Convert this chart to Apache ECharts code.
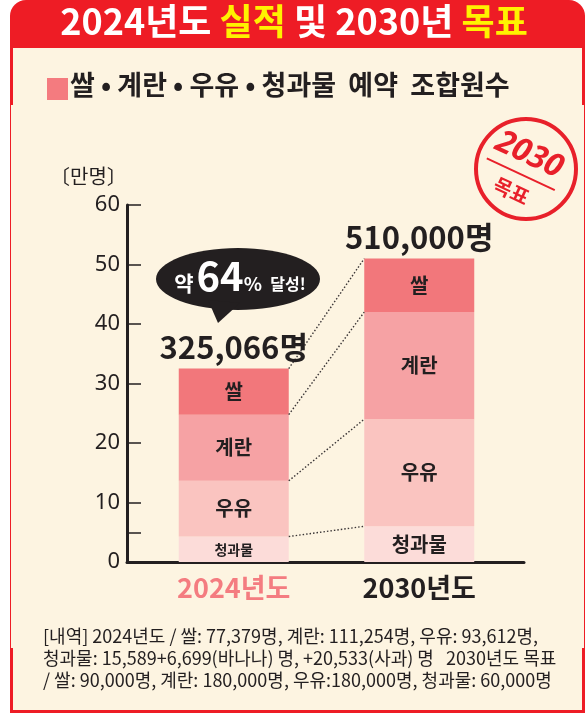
<!DOCTYPE html>
<html>
<head>
<meta charset="utf-8">
<script src="https://cdn.jsdelivr.net/npm/echarts@6/dist/echarts.min.js"></script>
<style>
  html, body { margin: 0; padding: 0; background: #ffffff; }
  #chart { width: 588px; height: 720px; }
</style>
</head>
<body>
<div id="chart"></div>
<script>
// 데이터 (명)
const years = ['2024년도', '2030년도'];
const segNames = ['청과물', '우유', '계란', '쌀'];
const fruit = [15589 + 6699 + 20533, 60000];
const milk = [93612, 180000];
const egg = [111254, 180000];
const rice = [77379, 90000];
const yTicks = [0, 10, 20, 30, 40, 50, 60];

const FONT = '"Noto Sans CJK KR", "Noto Sans", sans-serif';
const DARK = '#231f20';
const colors = ['#fcdcd9', '#fac4c0', '#f6a2a4', '#f2777b'];
const BAR_W = 110;

const toMan = v => v / 10000;
const segs = [fruit, milk, egg, rice];
const totals = years.map((_, i) => segs.reduce((s, a) => s + a[i], 0));

// 누적 상단 (만명) - 점선 연결용
const cumTops = [];
segs.forEach((arr, k) => {
    const prev = k ? cumTops[k - 1] : [0, 0];
    cumTops.push([prev[0] + toMan(arr[0]), prev[1] + toMan(arr[1])]);
});

const chart = echarts.init(document.getElementById('chart'));

const barSeries = segs.map((arr, k) => ({
    name: segNames[k],
    type: 'bar',
    stack: 'total',
    barWidth: BAR_W,
    xAxisIndex: 0,
    yAxisIndex: 0,
    itemStyle: { color: colors[k] },
    label: {
        show: true,
        position: 'inside',
        formatter: () => segNames[k],
        color: DARK,
        fontFamily: FONT,
        fontWeight: 'bold',
        fontSize: 20
    },
    data: arr.map((v, i) => (k === 0 && i === 0)
        ? { value: toMan(v), label: { fontSize: 14 } }
        : toMan(v)),
    z: 2
}));

const option = {
    animation: false,
    backgroundColor: '#ffffff',
    grid: [
        { left: 141, right: 76, top: 205, bottom: 158 },
        { left: 127, right: 64, top: 205, bottom: 158 }
    ],
    xAxis: [
        {
            type: 'category',
            gridIndex: 0,
            data: years,
            axisLine: { show: false },
            axisTick: { show: false },
            axisLabel: {
                margin: 12,
                formatter: (v, i) => (i === 0 ? '{a|' + v + '}' : '{b|' + v + '}'),
                rich: {
                    a: { color: '#f47c80', fontFamily: FONT, fontWeight: 'bold', fontSize: 27 },
                    b: { color: DARK, fontFamily: FONT, fontWeight: 'bold', fontSize: 27 }
                }
            }
        },
        {
            type: 'value',
            gridIndex: 1,
            min: 0,
            max: 1,
            splitLine: { show: false },
            axisLine: { show: true, onZero: false, lineStyle: { color: DARK, width: 3 } },
            axisTick: { show: false },
            axisLabel: { show: false }
        }
    ],
    yAxis: [
        { type: 'value', gridIndex: 0, min: 0, max: 60, show: false },
        {
            type: 'value',
            gridIndex: 1,
            min: 0,
            max: 60,
            interval: 10,
            splitLine: { show: false },
            axisLine: { show: true, onZero: false, lineStyle: { color: DARK, width: 3 } },
            axisTick: {
                show: true,
                inside: true,
                length: 14,
                customValues: [5, 10, 20, 30, 40, 50, 60],
                lineStyle: { color: DARK, width: 1.5 }
            },
            axisLabel: {
                customValues: yTicks,
                margin: 7,
                color: DARK,
                fontFamily: '"Noto Sans", sans-serif',
                fontSize: 22
            }
        }
    ],
    series: barSeries.concat([
        {
            // 합계 라벨
            type: 'scatter',
            xAxisIndex: 0,
            yAxisIndex: 0,
            symbolSize: 0,
            itemStyle: { opacity: 1 },
            data: totals.map((t, i) => [i, toMan(t)]),
            label: {
                show: true,
                position: 'top',
                distance: 6,
                opacity: 1,
                formatter: p => totals[p.dataIndex].toLocaleString('en-US') + '명',
                color: DARK,
                fontFamily: FONT,
                fontWeight: 'bold',
                fontSize: 31
            },
            z: 5
        },
        {
            // 점선 연결
            type: 'custom',
            xAxisIndex: 0,
            yAxisIndex: 0,
            data: cumTops.map(c => [c[0], c[1]]),
            encode: { x: -1, y: -1 },
            renderItem: (params, api) => {
                const a = api.coord([0, api.value(0)]);
                const b = api.coord([1, api.value(1)]);
                return {
                    type: 'line',
                    shape: { x1: a[0] + BAR_W / 2, y1: a[1], x2: b[0] - BAR_W / 2, y2: b[1] },
                    style: { stroke: '#3a3536', lineWidth: 1.4, lineDash: [1.5, 2] }
                };
            },
            z: 3
        }
    ]),
    graphic: [
        // 프레임
        { type: 'rect', z: -10, shape: { x: 10, y: 0, width: 575, height: 713, r: [16, 16, 0, 0] }, style: { fill: '#ee1c25' } },
        { type: 'rect', z: -9, shape: { x: 13, y: 48, width: 569, height: 662 }, style: { fill: '#fdf4e1' } },
        { type: 'rect', z: -9, shape: { x: 11, y: 105, width: 573, height: 543 }, style: { fill: '#fdf4e1' } },
        {
            type: 'text', left: 'center', top: 3,
            style: {
                text: '{w|2024년도 }{y|실적}{w| 및 2030년 }{y|목표}',
                rich: {
                    w: { fill: '#ffffff', fontFamily: FONT, fontWeight: 'bold', fontSize: 36 },
                    y: { fill: '#fff200', fontFamily: FONT, fontWeight: 'bold', fontSize: 36 }
                }
            }
        },
        // 범례
        { type: 'rect', shape: { x: 47, y: 78, width: 21, height: 22 }, style: { fill: '#f47b7f' } },
        {
            type: 'text', left: 70, top: 71,
            style: { text: '쌀 • 계란 • 우유 • 청과물  예약  조합원수', fill: DARK, fontFamily: FONT, fontWeight: 'bold', fontSize: 27 }
        },
        {
            type: 'text', left: 50, top: 166,
            style: { text: '〔만명〕', fill: DARK, fontFamily: FONT, fontSize: 20 }
        },
        // 말풍선
        {
            type: 'group', z: 10,
            children: [
                { type: 'ellipse', shape: { cx: 238, cy: 279, rx: 82, ry: 31 }, style: { fill: '#231f20' } },
                { type: 'polygon', shape: { points: [[208, 300], [240, 303], [218, 323]] }, style: { fill: '#231f20' } },
                { type: 'text', x: 184, y: 283, style: { text: '약', align: 'center', verticalAlign: 'middle', fill: '#fff', fontFamily: FONT, fontWeight: 'bold', fontSize: 21 } },
                { type: 'text', x: 220, y: 276, style: { text: '64', align: 'center', verticalAlign: 'middle', fill: '#fff', fontFamily: FONT, fontWeight: 'bold', fontSize: 40 } },
                { type: 'text', x: 253, y: 284, style: { text: '%', align: 'center', verticalAlign: 'middle', fill: '#fff', fontFamily: FONT, fontWeight: 'bold', fontSize: 19 } },
                { type: 'text', x: 288, y: 284, style: { text: '달성!', align: 'center', verticalAlign: 'middle', fill: '#fff', fontFamily: FONT, fontWeight: 'bold', fontSize: 16 } }
            ]
        },
        // 2030 목표 도장
        {
            type: 'group', z: 10,
            children: [
                { type: 'circle', shape: { cx: 526, cy: 169, r: 50 }, style: { fill: 'none', stroke: '#e8202a', lineWidth: 4 } },
                {
                    type: 'group', x: 526, y: 169, rotation: -25 * Math.PI / 180,
                    children: [
                        { type: 'text', x: -3, y: -14, style: { text: '2030', align: 'center', verticalAlign: 'middle', fill: '#e8202a', fontFamily: '"Noto Sans", sans-serif', fontStyle: 'italic', fontWeight: 'bold', fontSize: 32 } },
                        { type: 'line', shape: { x1: -40, y1: 7, x2: 35, y2: 7 }, style: { stroke: '#e8202a', lineWidth: 2 } },
                        { type: 'text', x: -4, y: 26, style: { text: '목표', align: 'center', verticalAlign: 'middle', fill: '#e8202a', fontFamily: FONT, fontWeight: 'bold', fontSize: 20 } }
                    ]
                }
            ]
        },
        // 내역
        {
            type: 'text', left: 43, top: 625,
            style: {
                text: '[내역] 2024년도 / 쌀: 77,379명, 계란: 111,254명, 우유: 93,612명,\n청과물: 15,589+6,699(바나나) 명, +20,533(사과) 명   2030년도 목표\n/ 쌀: 90,000명, 계란: 180,000명, 우유:180,000명, 청과물: 60,000명',
                fill: DARK, fontFamily: FONT, fontSize: 18, lineHeight: 22
            }
        }
    ]
};

chart.setOption(option);
</script>
</body>
</html>
